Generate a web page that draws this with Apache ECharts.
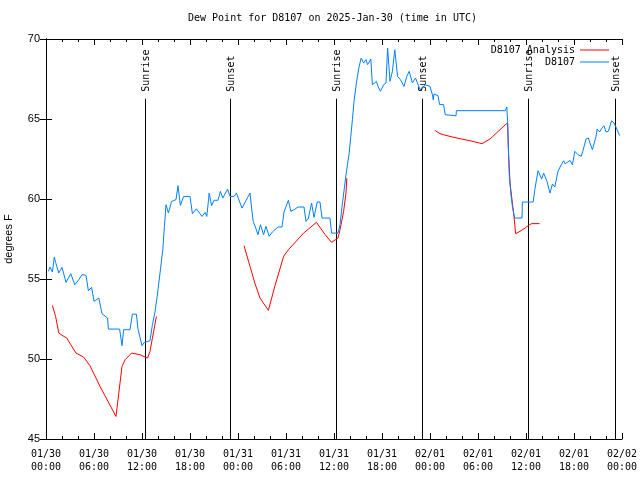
<!DOCTYPE html>
<html>
<head>
<meta charset="utf-8">
<script src="https://cdn.jsdelivr.net/npm/echarts@6/dist/echarts.min.js"></script>
<style>html,body{margin:0;padding:0;background:#fff}#c{width:640px;height:480px}</style>
</head>
<body>
<div id="c"></div>
<script>
// Hours since 2025-01-30 00:00 UTC
var obsTimes = [0.3,0.5,0.8,1.04,1.2,1.6,2.0,2.25,2.5,3.1,3.3,3.6,4.1,4.5,5.0,5.3,5.7,6.0,6.6,7.0,7.7,7.8,9.2,9.5,9.7,10.5,10.8,11.3,11.5,12.0,12.3,12.5,13.0,13.3,13.6,13.9,14.25,14.6,14.8,15.0,15.3,15.7,16.25,16.5,16.8,17.2,18.0,18.3,18.8,19.5,19.9,20.1,20.4,20.7,21.0,21.5,21.8,22.1,22.7,23.0,23.5,23.8,24.5,25.0,25.5,25.7,25.9,26.3,26.5,26.8,27.2,27.5,27.9,28.3,29.0,29.5,29.75,30.3,30.6,31.0,31.5,32.25,32.5,32.8,33.2,33.5,33.9,34.25,34.5,35.5,35.7,36.5,36.75,37.0,37.1,37.5,37.6,37.9,38.1,38.3,38.5,38.8,39.1,39.4,39.7,40.0,40.2,40.6,40.8,41.3,41.5,41.8,42.2,42.5,42.7,43.0,43.3,43.6,43.95,44.3,44.75,45.1,45.4,45.8,46.2,46.75,47.4,48.0,48.3,48.4,48.5,49.0,49.2,49.7,49.9,50.1,51.25,51.3,57.4,57.6,57.7,57.8,57.9,58.1,58.3,58.5,58.6,59.5,59.55,60.9,61.1,61.5,61.96,62.2,62.6,63.0,63.3,63.6,64.0,64.4,64.7,64.9,65.5,65.8,66.1,66.5,66.9,67.1,67.5,67.8,68.0,68.3,68.75,68.9,69.2,69.5,69.75,70.0,70.3,70.7,71.0,71.3,71.7];
var obsValues = [55.48,55.75,55.44,56.37,56.04,55.38,55.73,55.73,54.79,55.33,55.33,54.64,54.96,55.27,55.23,54.27,54.48,53.6,53.81,52.83,52.56,51.87,51.87,50.83,51.83,51.83,52.81,52.8,51.87,50.83,51.04,51.14,51.14,52.14,52.87,53.91,55.37,56.83,58.29,59.64,59.13,59.85,59.96,60.83,59.6,60.16,60.16,59.08,59.39,58.91,59.16,58.91,60.37,59.58,59.92,59.92,60.48,60.06,60.62,60.16,60.16,60.37,59.43,59.9,60.37,59.43,58.6,58.08,57.77,58.39,57.77,58.29,57.67,57.94,58.25,58.25,59.19,59.92,59.23,59.33,59.5,59.5,58.6,58.81,59.75,58.85,59.81,59.81,58.81,58.81,57.87,57.87,58.39,59.54,59.9,61.52,61.6,62.87,63.91,64.96,66.1,67.25,68.19,68.81,68.5,68.71,68.4,68.75,67.14,67.35,67.04,66.73,67.14,67.25,69.44,67.35,67.98,69.33,67.66,67.46,67.04,67.66,67.98,67.25,67.56,66.83,67.14,67.04,66.52,66.2,66.56,66.46,65.9,65.9,65.27,65.2,65.2,65.52,65.52,65.75,64.85,63.08,61.6,60.37,59.54,59.0,58.81,58.81,59.81,59.81,60.58,61.77,61.25,61.62,61.14,60.37,60.94,60.75,61.73,62.14,62.39,62.2,62.41,62.14,62.98,62.77,62.67,62.98,63.75,63.81,63.5,63.08,63.91,64.37,64.19,64.44,64.58,64.19,64.23,64.89,64.75,64.44,63.96];

var anaTimes = [0.8,1.2,1.6,2.0,2.6,3.1,3.75,4.7,5.5,6.75,8.75,9.0,9.5,9.9,10.7,11.75,12.4,12.7,13.0,13.3,13.8,18.0,24.75,25.5,26.1,26.75,27.8,28.6,29.7,30.3,32.2,33.8,34.9,35.7,36.5,36.75,37.2,37.5,37.6,43.0,48.6,49.25,50.5,51.75,53.0,54.5,55.5,56.75,57.4,57.7,57.8,58.0,58.5,58.7,59.25,59.9,60.3,60.7,61.7];
var anaValues = [53.35,52.66,51.63,51.48,51.31,50.89,50.37,50.12,49.58,48.29,46.41,47.46,49.54,49.96,50.37,50.27,50.12,50.06,50.48,51.3,52.66,null,57.08,55.79,54.75,53.81,53.04,54.54,56.41,56.83,57.87,58.54,57.77,57.29,57.56,58.08,59.23,60.37,61.3,null,64.29,64.08,63.91,63.77,63.64,63.46,63.75,64.33,64.64,64.75,63.08,61.0,58.9,57.83,57.98,58.19,58.35,58.46,58.46];

var sunTimes = [12.4, 23.0, 36.3, 47.0, 60.3, 71.1];
var sunLabels = ['Sunrise', 'Sunset', 'Sunrise', 'Sunset', 'Sunrise', 'Sunset'];
var sunLineTop = 66.27;

var xTickLabels = ['01/30\n00:00','01/30\n06:00','01/30\n12:00','01/30\n18:00','01/31\n00:00','01/31\n06:00','01/31\n12:00','01/31\n18:00','02/01\n00:00','02/01\n06:00','02/01\n12:00','02/01\n18:00','02/02\n00:00'];

var yMin = 45, yMax = 70, yStep = 5;
var xMin = 0, xMax = 72, xStep = 6;

function pairs(ts, vs) { return ts.map(function (t, i) { return [t, vs[i]]; }); }

var mono = '"DejaVu Sans Mono", monospace';
var sans = '"Liberation Sans", Arial, sans-serif';

var axisLineStyle = { show: true, lineStyle: { color: '#000', width: 1 } };

var chart = echarts.init(document.getElementById('c'), null, { renderer: 'canvas' });
chart.setOption({
  animation: false,
  backgroundColor: '#fff',
  title: {
    text: 'Dew Point for D8107 on 2025-Jan-30 (time in UTC)',
    left: 188, top: 13, padding: 0,
    textStyle: { fontFamily: mono, fontSize: 10, fontWeight: 'normal', color: '#000' }
  },
  legend: {
    data: ['D8107 Analysis', 'D8107'],
    orient: 'vertical', right: 31, top: 44, padding: 0,
    align: 'right', itemGap: 0, itemWidth: 29, itemHeight: 1,
    icon: 'rect',
    textStyle: { fontFamily: mono, fontSize: 10, color: '#000', lineHeight: 12 }
  },
  grid: { left: 46, right: 18, top: 39, bottom: 41, containLabel: false, outerBoundsMode: 'none' },
  xAxis: [{
    type: 'value', min: xMin, max: xMax, interval: xStep, position: 'bottom',
    axisLine: axisLineStyle,
    axisTick: { show: true, inside: true, length: 6, lineStyle: { color: '#000' } },
    minorTick: { show: true, splitNumber: 3, length: 3, lineStyle: { color: '#000' } },
    splitLine: { show: false },
    axisLabel: {
      fontFamily: mono, fontSize: 10, color: '#000', lineHeight: 13, margin: 9,
      formatter: function (v) { return xTickLabels[Math.round((v - xMin) / xStep)] || ''; }
    }
  }, {
    type: 'value', min: xMin, max: xMax, interval: xStep, position: 'top',
    axisLine: axisLineStyle,
    axisTick: { show: true, inside: true, length: 6, lineStyle: { color: '#000' } },
    minorTick: { show: true, splitNumber: 3, length: 3, lineStyle: { color: '#000' } },
    splitLine: { show: false },
    axisLabel: { show: false }
  }],
  yAxis: [{
    type: 'value', min: yMin, max: yMax, interval: yStep, position: 'left',
    axisLine: axisLineStyle,
    axisTick: { show: true, inside: true, length: 6, lineStyle: { color: '#000' } },
    splitLine: { show: false },
    axisLabel: { fontFamily: sans, fontSize: 11, color: '#000', margin: 6 },
    name: 'degrees F', nameLocation: 'middle', nameRotate: 90, nameGap: 32,
    nameTextStyle: { fontFamily: sans, fontSize: 11, color: '#000' }
  }, {
    type: 'value', min: yMin, max: yMax, interval: yStep, position: 'right',
    axisLine: axisLineStyle,
    axisTick: { show: true, inside: true, length: 6, lineStyle: { color: '#000' } },
    splitLine: { show: false },
    axisLabel: { show: false }
  }],
  series: [{
    type: 'custom', name: 'sun', xAxisIndex: 0, yAxisIndex: 0,
    data: sunTimes.map(function (t) { return [t, yMin]; }),
    encode: { x: 0, y: 1 },
    silent: true, z: 1,
    renderItem: function (params, api) {
      var t = api.value(0);
      var b = api.coord([t, yMin]);
      var tp = api.coord([t, sunLineTop]);
      var x = Math.round(b[0]) + 0.5;
      return {
        type: 'group',
        children: [{
          type: 'line',
          shape: { x1: x, y1: b[1], x2: x, y2: tp[1] },
          style: { stroke: '#000', lineWidth: 1 }
        }, {
          type: 'text',
          x: x + 1, y: tp[1] - 7, rotation: Math.PI / 2,
          style: {
            text: sunLabels[params.dataIndex], fill: '#000',
            font: '10px ' + mono, align: 'left', verticalAlign: 'middle'
          }
        }]
      };
    }
  }, {
    name: 'D8107 Analysis', type: 'line', xAxisIndex: 0, yAxisIndex: 0,
    data: pairs(anaTimes, anaValues), connectNulls: false,
    symbol: 'none', color: '#ff0000', lineStyle: { color: '#ff0000', width: 1 }, z: 2
  }, {
    name: 'D8107', type: 'line', xAxisIndex: 0, yAxisIndex: 0,
    data: pairs(obsTimes, obsValues),
    symbol: 'none', color: '#0080ff', lineStyle: { color: '#0080ff', width: 1 }, z: 3
  }]
});
</script>
</body>
</html>
